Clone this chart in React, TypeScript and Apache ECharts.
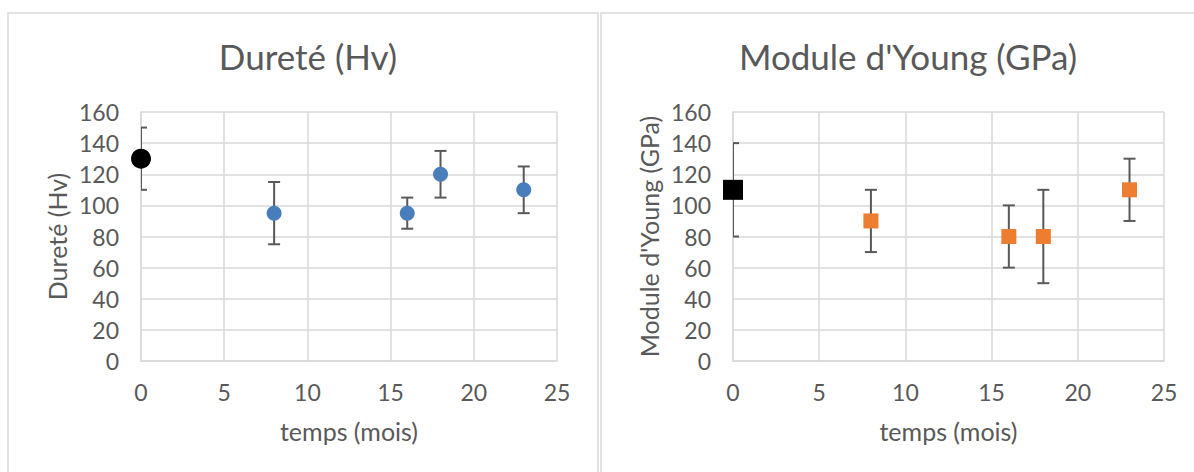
import React, { useEffect, useRef } from "react";
import * as echarts from "echarts";

// Data
const months = [0, 8, 16, 18, 23];
const hardness = [130, 95, 95, 120, 110];
const hardnessErr = [20, 20, 10, 15, 15];
const young = [110, 90, 80, 80, 110];
const youngErr = [30, 20, 20, 30, 20];

const titles = ["Dureté (Hv)", "Module d'Young (GPa)"];
const yNames = ["Dureté (Hv)", "Module d'Young (GPa)"];
const xName = "temps (mois)";

const FONT = "Lato";
const TEXT = "#595959";
const GRID = "#d9d9d9";

function errData(vals: number[], errs: number[]) {
  return months.map((m, i) => [m, vals[i] - errs[i], vals[i] + errs[i]]);
}

function errorSeries(idx: number, data: number[][]) {
  return {
    type: "custom",
    xAxisIndex: idx,
    yAxisIndex: idx,
    clip: true,
    z: 2,
    data,
    encode: { x: 0, y: [1, 2] },
    renderItem: (params: any, api: any) => {
      const x = api.value(0);
      const lo = api.value(1);
      const hi = api.value(2);
      const pHi = api.coord([x, hi]);
      const pLo = api.coord([x, lo]);
      const hw = 6;
      const style = { stroke: TEXT, lineWidth: 2, fill: null };
      return {
        type: "group",
        children: [
          { type: "line", shape: { x1: pHi[0], y1: pHi[1], x2: pLo[0], y2: pLo[1] }, style },
          { type: "line", shape: { x1: pHi[0] - hw, y1: pHi[1], x2: pHi[0] + hw, y2: pHi[1] }, style },
          { type: "line", shape: { x1: pLo[0] - hw, y1: pLo[1], x2: pLo[0] + hw, y2: pLo[1] }, style },
        ],
      };
    },
  };
}

function axisPair(idx: number, yName: string, yGap: number) {
  const x = {
    type: "value",
    gridIndex: idx,
    min: 0,
    max: 25,
    interval: 5,
    name: xName,
    nameLocation: "middle",
    nameGap: 57,
    nameTextStyle: { color: TEXT, fontFamily: FONT, fontSize: 25 },
    axisLine: { show: true, lineStyle: { color: GRID, width: 1.5 } },
    axisTick: { show: false },
    axisLabel: { color: TEXT, fontFamily: FONT, fontSize: 23, margin: 19 },
    splitLine: { show: true, lineStyle: { color: GRID, width: 1.5 } },
  };
  const y = {
    type: "value",
    gridIndex: idx,
    min: 0,
    max: 160,
    interval: 20,
    name: yName,
    nameLocation: "middle",
    nameRotate: 90,
    nameGap: yGap,
    nameTextStyle: { color: TEXT, fontFamily: FONT, fontSize: 25 },
    axisLine: { show: true, lineStyle: { color: GRID, width: 1.5 } },
    axisTick: { show: false },
    axisLabel: { color: TEXT, fontFamily: FONT, fontSize: 23, margin: 22 },
    splitLine: { show: true, lineStyle: { color: GRID, width: 1.5 } },
  };
  return { x, y };
}

export default function App() {
  const ref = useRef<HTMLDivElement>(null);
  useEffect(() => {
    if (!ref.current) return;
    const chart = echarts.init(ref.current, undefined, { renderer: "svg" });
    const a0 = axisPair(0, yNames[0], 72);
    const a1 = axisPair(1, yNames[1], 72);
    chart.setOption({
      animation: false,
      backgroundColor: "#ffffff",
      title: [
        {
          text: titles[0],
          left: 303,
          top: 33,
          textAlign: "center",
          textStyle: { color: TEXT, fontFamily: FONT, fontSize: 35, fontWeight: "normal" },
        },
        {
          text: titles[1],
          left: 903,
          top: 33,
          textAlign: "center",
          textStyle: { color: TEXT, fontFamily: FONT, fontSize: 35, fontWeight: "normal" },
        },
      ],
      graphic: [
        { type: "rect", shape: { x: 8, y: 13, width: 590, height: 470 }, style: { fill: "none", stroke: GRID, lineWidth: 1.5 }, z: -10 },
        { type: "rect", shape: { x: 601, y: 13, width: 600, height: 470 }, style: { fill: "none", stroke: GRID, lineWidth: 1.5 }, z: -10 },
      ],
      grid: [
        { left: 141, top: 112, width: 416, height: 249 },
        { left: 733, top: 112, width: 431, height: 249 },
      ],
      xAxis: [a0.x, a1.x],
      yAxis: [a0.y, a1.y],
      series: [
        errorSeries(0, errData(hardness, hardnessErr)),
        {
          type: "scatter",
          xAxisIndex: 0,
          yAxisIndex: 0,
          symbol: "circle",
          symbolSize: 20,
          z: 5,
          itemStyle: { color: "#000000", opacity: 1 },
          data: [[months[0], hardness[0]]],
        },
        {
          type: "scatter",
          xAxisIndex: 0,
          yAxisIndex: 0,
          symbol: "circle",
          symbolSize: 15,
          z: 5,
          itemStyle: { color: "#4a7ebb", opacity: 1 },
          data: months.slice(1).map((m, i) => [m, hardness[i + 1]]),
        },
        errorSeries(1, errData(young, youngErr)),
        {
          type: "scatter",
          xAxisIndex: 1,
          yAxisIndex: 1,
          symbol: "rect",
          symbolSize: 20,
          z: 5,
          itemStyle: { color: "#000000", opacity: 1 },
          data: [[months[0], young[0]]],
        },
        {
          type: "scatter",
          xAxisIndex: 1,
          yAxisIndex: 1,
          symbol: "rect",
          symbolSize: 15,
          z: 5,
          itemStyle: { color: "#ed7d31", opacity: 1 },
          data: months.slice(1).map((m, i) => [m, young[i + 1]]),
        },
      ],
    });
    return () => chart.dispose();
  }, []);
  return (
    <div
      ref={ref}
      style={{ position: "fixed", left: 0, top: 0, width: 1194, height: 472, background: "#fff" }}
    />
  );
}
